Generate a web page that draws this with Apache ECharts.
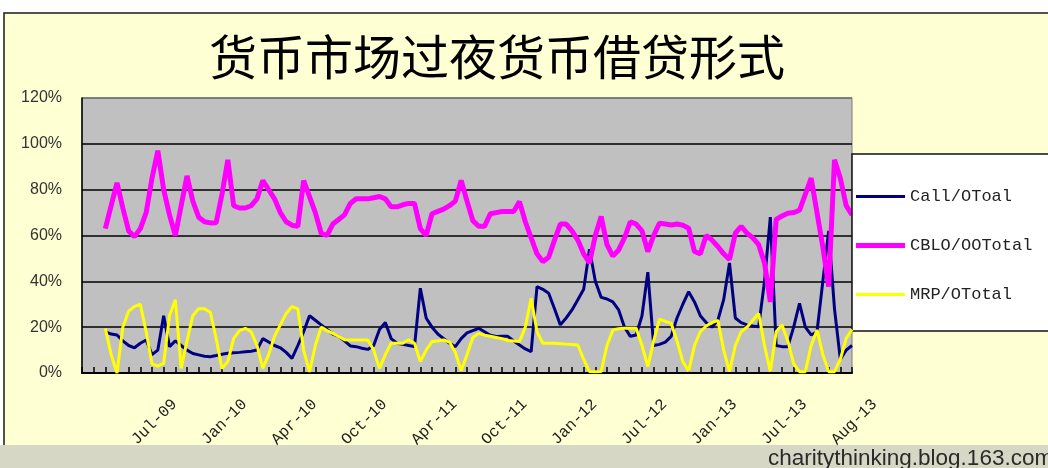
<!DOCTYPE html>
<html>
<head>
<meta charset="utf-8">
<script src="https://cdn.jsdelivr.net/npm/echarts@6/dist/echarts.min.js"></script>
<style>
  html, body { margin: 0; padding: 0; background: #ffffff; }
  #chart { width: 1048px; height: 468px; }
</style>
</head>
<body>
<div id="chart"></div>
<script>
// Overnight money-market lending shares, one point per observation
const titleText = '货币市场过夜货币借贷形式';
const seriesNames = ['Call/OToal', 'CBLO/OOTotal', 'MRP/OTotal'];

// Observation points on the category axis
const pointCount = 133;
const categories = Array.from({ length: pointCount }, (_, i) => String(i));

// Date labels and the observation they sit on
const tickIndex = [12, 24, 36, 48, 60, 72, 84, 96, 108, 120, 132];
const tickLabels = ['Jul-09', 'Jan-10', 'Apr-10', 'Oct-10', 'Apr-11', 'Oct-11',
                    'Jan-12', 'Jul-12', 'Jan-13', 'Jul-13', 'Aug-13'];

// Percent values
const callShare = [
  null, null, null, null, 18, 17, 16.6, 14, 12, 11,
  13, 14.4, 8, 10, 25, 11.5, 14, 12, 10, 8.5,
  7.9, 7.3, 7.1, 7.6, 8.2, 8.6, 8.8, 9, 9.3, 9.5,
  10, 15, 13.5, 12, 11, 9, 6.4, 12, 18, 25,
  23, 21, 19, 17, 16, 14, 11.8, 11.5, 10.8, 10.3,
  12, 19, 22, 15, 13, 12.5, 12, 11.5, 37, 24,
  20, 17, 15, 13, 11.5, 15, 17.5, 18.5, 19.5, 18,
  16.5, 15.9, 16, 16, 14, 12.2, 10.5, 9.3, 37.7, 36.5,
  34.8, 28, 21, 24, 27.5, 32, 36.5, 54, 40, 33,
  32.3, 31, 27.5, 20, 16, 16.6, 25, 44, 12, 12.5,
  13.5, 16, 24, 30, 35.5, 31, 25, 22, 20, 23,
  32, 48, 24, 22, 21, 20.5, 20.2, 40, 68, 12,
  11.5, 11.5, 20, 30.4, 20, 16.6, 18, 40, 62, 28,
  6, 10, 12
];

const cbloShare = [
  null, null, null, null, 63, 73, 83, 72, 62, 59.5,
  63, 70, 85, 97, 80, 69, 60, 73, 86, 75,
  68, 66, 65.5, 65.6, 78, 93, 73, 72, 72, 73,
  76, 84, 80, 76, 70, 66, 64.5, 64, 84, 77,
  70, 61, 60, 65, 67, 69, 74, 76, 76, 76,
  76.5, 77, 76, 72.5, 72.5, 73.4, 74, 74, 63, 60,
  69.5, 70.5, 71.5, 73, 75, 84, 75, 66.5, 64, 64,
  69.5, 70, 70.5, 70.5, 70.5, 74.8, 66, 59, 52, 48.6,
  50.5, 58, 65, 65, 62, 58, 52, 48, 60, 68.3,
  56, 51, 53.7, 59, 66, 65, 62, 53, 60, 65.4,
  65, 64.6, 65, 64.5, 63.2, 53, 52, 60, 58, 55.2,
  52, 49.5, 61, 64, 61, 59, 56, 48, 31, 67,
  68.5, 69.7, 70, 71, 78, 85, 70, 55, 37.7, 93,
  85, 73, 69
];

const mrpShare = [
  null, null, null, null, 19.5, 8, 0, 20, 27, 29,
  30, 18, 4, 3, 4.2, 25, 32, 2, 14, 25,
  28, 28, 26.5, 15, 2, 5, 15, 18.5, 19.5, 18,
  12, 2, 8, 16, 21, 26, 29, 28, 10, 0.5,
  12, 20, 18.5, 17.3, 16, 14.5, 14.4, 14.4, 14.4, 14.4,
  10, 2, 8, 13, 13, 13, 14.5, 13, 5, 10,
  13.7, 14, 14.4, 13.5, 9, 1, 8, 15.5, 17.3, 16.5,
  16, 15.5, 15, 14.2, 14, 13.7, 20, 32.6, 18, 13,
  13, 13, 12.8, 12.6, 12.4, 12.2, 6, 0.6, 0.5, 0.6,
  12, 18.8, 19.3, 19.5, 19.5, 19.5, 12, 2.8, 14, 23.5,
  22.5, 21.7, 14, 5, 0.8, 12, 18, 20.5, 22, 23,
  10, 0.6, 12, 18, 20, 23, 26, 12, 0.6, 18,
  21, 14, 4, 0.6, 0.6, 12, 18.8, 8, 0.6, 0.6,
  6, 15, 19
];

const yTicks = [0, 20, 40, 60, 80, 100, 120];

// Legend keys: a plain stroke, the CBLO one drawn heavier like its line
const thinKey = 'path://M0,0h0.01v14h-0.01z M0,5.5h49v3h-49z';
const thickKey = 'path://M0,0h0.01v14h-0.01z M0,4.5h49v5h-49z';

const chart = echarts.init(document.getElementById('chart'), null, { renderer: 'canvas' });

const labelFor = {};
tickIndex.forEach((idx, k) => { labelFor[String(idx)] = tickLabels[k]; });

chart.setOption({
  backgroundColor: '#ffffff',
  animation: false,
  title: {
    text: titleText,
    left: 492,
    top: 28,
    textAlign: 'center',
    textStyle: {
      fontFamily: '"Noto Sans CJK SC"',
      fontSize: 48,
      fontWeight: 'normal',
      color: '#000000'
    }
  },
  graphic: [
    {
      type: 'rect', z: -20,
      shape: { x: 4, y: 13, width: 1100, height: 500 },
      style: { fill: '#FFFFD4', stroke: '#1a1a1a', lineWidth: 1.5 }
    },
    {
      type: 'rect', z: -15,
      shape: { x: 0, y: 445, width: 1048, height: 23 },
      style: { fill: '#D7D7C6' }
    },
    {
      type: 'text', z: 50,
      left: 768, top: 447,
      style: {
        text: 'charitythinking.blog.163.com',
        fontFamily: 'Liberation Sans, Arial, sans-serif',
        fontSize: 22.5,
        fill: '#2a2a2a'
      }
    }
  ],
  legend: {
    orient: 'vertical',
    left: 852,
    top: 154,
    padding: [34, 220, 28, 4],
    itemGap: 32,
    itemWidth: 49,
    itemHeight: 14,
    backgroundColor: '#ffffff',
    borderColor: '#111111',
    borderWidth: 1.5,
    data: [
      { name: seriesNames[0], icon: thinKey },
      { name: seriesNames[1], icon: thickKey },
      { name: seriesNames[2], icon: thinKey }
    ],
    textStyle: {
      fontFamily: '"Liberation Mono", monospace',
      fontSize: 17,
      color: '#222222'
    }
  },
  grid: {
    left: 82,
    top: 98,
    width: 770,
    height: 275,
    show: true,
    backgroundColor: '#C0C0C0',
    borderColor: '#7a7a7a',
    borderWidth: 1
  },
  xAxis: {
    type: 'category',
    data: categories,
    boundaryGap: false,
    axisLine: { show: true, lineStyle: { color: '#000000', width: 2 } },
    axisTick: {
      show: true,
      inside: true,
      length: 6,
      interval: (i) => i % 2 === 0,
      lineStyle: { color: '#000000', width: 1.5 }
    },
    axisLabel: {
      // every point gets a label slot; only the dated ones carry text
      interval: 0,
      formatter: (v) => labelFor[v] || '',
      hideOverlap: false,
      rotate: 45,
      margin: 6,
      verticalAlign: 'top',
      lineHeight: 64,
      fontFamily: '"Liberation Mono", monospace',
      fontSize: 16,
      color: '#1e1e1e'
    },
    splitLine: { show: false }
  },
  yAxis: {
    type: 'value',
    min: yTicks[0],
    max: yTicks[yTicks.length - 1],
    interval: 20,
    axisLine: { show: true, lineStyle: { color: '#000000', width: 1.5 } },
    axisTick: { show: false },
    axisLabel: {
      formatter: (v) => v + '%',
      margin: 20,
      fontFamily: '"Liberation Sans", Arial, sans-serif',
      fontSize: 16,
      color: '#333333'
    },
    splitLine: {
      show: true,
      lineStyle: {
        color: ['#000000', '#000000', '#000000', '#000000', '#000000', '#000000', '#6e6e6e'],
        width: 1.6
      }
    }
  },
  series: [
    {
      name: seriesNames[0],
      type: 'line',
      data: callShare,
      symbol: 'none',
      lineStyle: { color: '#000080', width: 3 },
      itemStyle: { color: '#000080' },
      z: 2
    },
    {
      name: seriesNames[1],
      type: 'line',
      data: cbloShare,
      symbol: 'none',
      lineStyle: { color: '#FF00FF', width: 5 },
      itemStyle: { color: '#FF00FF' },
      z: 3
    },
    {
      name: seriesNames[2],
      type: 'line',
      data: mrpShare,
      symbol: 'none',
      lineStyle: { color: '#FFFF00', width: 3 },
      itemStyle: { color: '#FFFF00' },
      z: 4
    }
  ]
});
</script>
</body>
</html>
